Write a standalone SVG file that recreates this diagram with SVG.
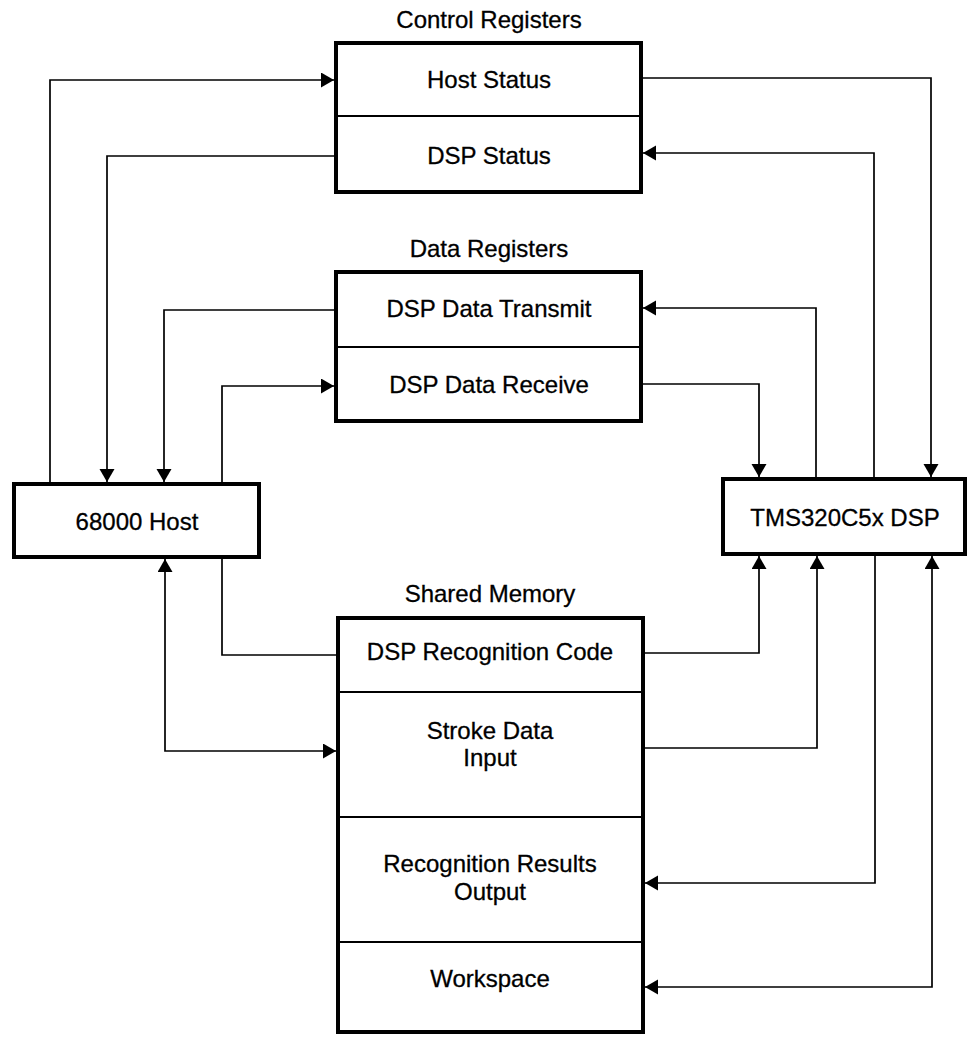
<svg xmlns="http://www.w3.org/2000/svg" width="967" height="1037" viewBox="0 0 967 1037">
<style>
.box{fill:#fff;stroke:#000;stroke-width:4}
.div{stroke:#000;stroke-width:2;fill:none}
.conn{fill:none;stroke:#000;stroke-width:1.7}
.arr{marker-end:url(#ah)}
.bi{marker-start:url(#ah);marker-end:url(#ah)}
text{font-family:"Liberation Sans",Arial,sans-serif;font-size:24px;fill:#000;stroke:#000;stroke-width:0.3;text-anchor:middle}
</style>
<defs>
<marker id="ah" markerUnits="userSpaceOnUse" markerWidth="14" markerHeight="16" refX="13" refY="7.5" orient="auto-start-reverse">
<path d="M0,0 L13,7.5 L0,15 z" fill="#000"/>
</marker>
</defs>
<rect width="967" height="1037" fill="#fff"/>
<g id="connectors">
<path class="conn arr" d="M50,482 V80 H334"/>
<path class="conn arr" d="M334,156 H107 V482"/>
<path class="conn arr" d="M334,310 H164 V482"/>
<path class="conn arr" d="M222,482 V386 H334"/>
<path class="conn bi" d="M165,559 V751 H336"/>
<path class="conn" d="M222,559 V655 H336"/>
<path class="conn arr" d="M643,78 H931 V477"/>
<path class="conn arr" d="M874,477 V153 H643"/>
<path class="conn arr" d="M816,477 V308 H643"/>
<path class="conn arr" d="M643,384 H759 V477"/>
<path class="conn arr" d="M645,653 H759 V556"/>
<path class="conn arr" d="M645,748 H817 V556"/>
<path class="conn arr" d="M875,556 V883 H645"/>
<path class="conn bi" d="M645,987 H932 V556"/>
</g>
<g id="control-registers">
<text x="489" y="28">Control Registers</text>
<rect class="box" x="336" y="43" width="305" height="149"/>
<line class="div" x1="336" y1="116" x2="641" y2="116"/>
<text x="489" y="88">Host Status</text>
<text x="489" y="164">DSP Status</text>
</g>
<g id="data-registers">
<text x="489" y="257">Data Registers</text>
<rect class="box" x="336" y="272" width="305" height="149"/>
<line class="div" x1="336" y1="347" x2="641" y2="347"/>
<text x="489" y="317">DSP Data Transmit</text>
<text x="489" y="393">DSP Data Receive</text>
</g>
<g id="host">
<rect class="box" x="14" y="484" width="245" height="73"/>
<text x="137" y="530">68000 Host</text>
</g>
<g id="dsp">
<rect class="box" x="723" y="479" width="242" height="75"/>
<text x="845" y="526">TMS320C5x DSP</text>
</g>
<g id="shared-memory">
<text x="490" y="602">Shared Memory</text>
<rect class="box" x="338" y="618" width="305" height="414"/>
<line class="div" x1="338" y1="692" x2="643" y2="692"/>
<line class="div" x1="338" y1="817" x2="643" y2="817"/>
<line class="div" x1="338" y1="942" x2="643" y2="942"/>
<text x="490" y="660">DSP Recognition Code</text>
<text x="490" y="739">Stroke Data</text>
<text x="490" y="766">Input</text>
<text x="490" y="872">Recognition Results</text>
<text x="490" y="900">Output</text>
<text x="490" y="987">Workspace</text>
</g>
</svg>
